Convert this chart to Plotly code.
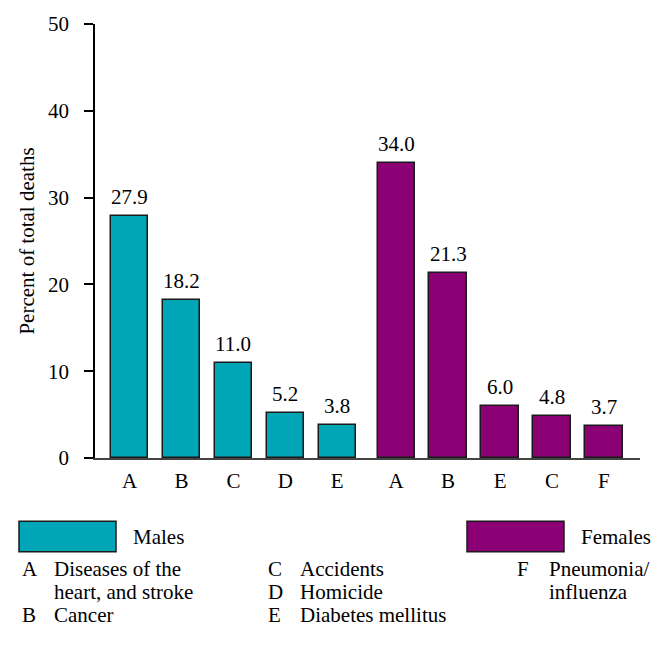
import plotly.graph_objects as go

# Leading causes of death, percent of total deaths, by sex
male_causes = ["A", "B", "C", "D", "E"]
male_values = [27.9, 18.2, 11.0, 5.2, 3.8]
female_causes = ["A", "B", "E", "C", "F"]
female_values = [34.0, 21.3, 6.0, 4.8, 3.7]

y_ticks = [0, 10, 20, 30, 40, 50]

cause_key = [
    ("A", ["Diseases of the", "heart, and stroke"]),
    ("B", ["Cancer"]),
    ("C", ["Accidents"]),
    ("D", ["Homicide"]),
    ("E", ["Diabetes mellitus"]),
    ("F", ["Pneumonia/", "influenza"]),
]

MALE_COLOR = "#00A5B6"
FEMALE_COLOR = "#8C0075"
EDGE = "#1a1a1a"
FONT = "Liberation Serif"
FS = 21

W, H = 663, 661
L, R, T, B = 95, 23, 18, 203

# slot positions: females start after a slightly wider gap
GROUP_GAP = 5.135
male_x = list(range(len(male_values)))
female_x = [GROUP_GAP + i for i in range(len(female_values))]


def px_x(px):
    return (px - L) / (W - L - R)


def px_y(py):
    return (H - B - py) / (H - T - B)


def text_font():
    return dict(family=FONT, size=FS, color="black")


fig = go.Figure()
annotations = []
for xs, vals, color, name in [
    (male_x, male_values, MALE_COLOR, "Males"),
    (female_x, female_values, FEMALE_COLOR, "Females"),
]:
    fig.add_trace(go.Bar(
        x=xs, y=vals, name=name, width=0.72,
        marker=dict(color=color, line=dict(color=EDGE, width=1.5)),
        showlegend=False,
    ))
    # value labels above each bar
    for x, v in zip(xs, vals):
        annotations.append(dict(x=x, y=v, xref="x", yref="y",
                                text=f"{v:.1f}", showarrow=False,
                                yanchor="bottom", yshift=5, font=text_font()))

fig.update_xaxes(
    range=[-0.665, 9.83],
    tickmode="array", tickvals=male_x + female_x,
    ticktext=male_causes + female_causes,
    ticks="", showline=True, linecolor="#444", linewidth=2,
    showgrid=False, zeroline=False, ticklabelstandoff=3,
    tickfont=text_font(),
)
fig.update_yaxes(
    range=[0, 50], tickvals=y_ticks,
    ticks="outside", ticklen=9, tickwidth=1.5, tickcolor="black",
    showline=True, linecolor="black", linewidth=1.5,
    showgrid=False, zeroline=False, ticklabelstandoff=11,
    tickfont=text_font(),
    title=dict(text="Percent of total deaths", standoff=8, font=text_font()),
)

# legend swatches and labels
shapes = []
for (x0, x1), label, lx, color in [
    ((19, 116), "Males", 131, MALE_COLOR),
    ((467, 564), "Females", 579, FEMALE_COLOR),
]:
    shapes.append(dict(type="rect", xref="paper", yref="paper",
                       x0=px_x(x0), x1=px_x(x1), y0=px_y(553), y1=px_y(522),
                       fillcolor=color, line=dict(color=EDGE, width=1.5)))
    annotations.append(dict(xref="paper", yref="paper", x=px_x(lx), y=px_y(538),
                            text=label, showarrow=False, xanchor="left",
                            yanchor="middle", font=text_font()))

# cause key in three columns
columns = [(20, 52), (266, 298), (515, 547)]
slots = [(0, 0), (0, 2), (1, 0), (1, 1), (1, 2), (2, 0)]
ROW0, ROW_STEP = 571, 23
for (letter, lines), (col, row) in zip(cause_key, slots):
    lx, dx = columns[col]
    y = ROW0 + row * ROW_STEP
    annotations.append(dict(xref="paper", yref="paper", x=px_x(lx), y=px_y(y),
                            text=letter, showarrow=False, xanchor="left",
                            yanchor="middle", font=text_font()))
    for k, line in enumerate(lines):
        annotations.append(dict(xref="paper", yref="paper", x=px_x(dx),
                                y=px_y(y + k * ROW_STEP), text=line,
                                showarrow=False, xanchor="left",
                                yanchor="middle", font=text_font()))

fig.update_layout(
    width=W, height=H, margin=dict(l=L, r=R, t=T, b=B),
    paper_bgcolor="white", plot_bgcolor="white",
    shapes=shapes, annotations=annotations, bargap=0,
)

fig.write_html("out.html")
